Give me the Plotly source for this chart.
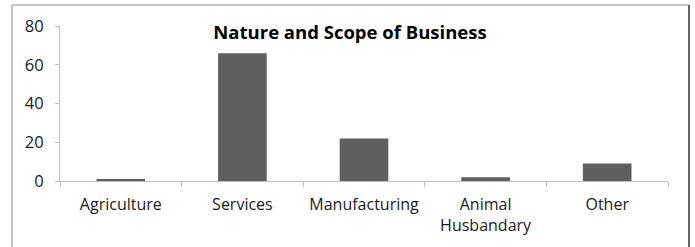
import plotly.graph_objects as go

categories = ["Agriculture", "Services", "Manufacturing", "Animal<br>Husbandary", "Other"]
values = [1, 66, 22, 2, 9]
y_ticks = [0, 20, 40, 60, 80]

W, H = 695, 247
L, R, T, B = 60, 27, 26, 66
pw, ph = W - L - R, H - T - B

def px_x(x):
    return (x - L) / pw

def px_y(y):
    return (H - B - y) / ph

fig = go.Figure(go.Bar(
    x=categories, y=values,
    marker=dict(color="#5f5f5f", line=dict(width=0)),
))

font_family = "Open Sans, Noto Sans, sans-serif"

fig.update_layout(
    width=W, height=H,
    margin=dict(l=L, r=R, t=T, b=B),
    paper_bgcolor="white", plot_bgcolor="white",
    bargap=0.6,
    showlegend=False,
    font=dict(family=font_family, size=15.5, color="#1a1a1a"),
    title=dict(
        text="<b>Nature and Scope of Business</b>",
        x=350 / W, xref="container", xanchor="center",
        y=1 - 33 / H, yref="container", yanchor="middle",
        font=dict(family=font_family, size=18.5, color="#000000"),
    ),
    xaxis=dict(
        type="category", automargin=False,
        showline=True, linecolor="#bfbfbf", linewidth=1,
        ticks="outside", tickson="boundaries", ticklen=5, tickcolor="#bfbfbf",
        showgrid=False, zeroline=False,
        tickfont=dict(size=16, color="#1a1a1a"),
        ticklabelstandoff=9,
    ),
    yaxis=dict(
        range=[0, 80], tickvals=y_ticks, automargin=False,
        showline=True, linecolor="#bfbfbf", linewidth=1,
        ticks="outside", ticklen=4, tickcolor="#bfbfbf",
        showgrid=False, zeroline=False,
        tickfont=dict(size=16.5, color="#1a1a1a"),
        ticklabelstandoff=8,
    ),
)

# outer chart border
border = "#8c8c8c"
fig.add_shape(type="line", xref="paper", yref="paper",
              x0=px_x(12), x1=px_x(12), y0=px_y(5), y1=px_y(260),
              line=dict(color=border, width=1))
fig.add_shape(type="line", xref="paper", yref="paper",
              x0=px_x(12), x1=px_x(689), y0=px_y(5), y1=px_y(5),
              line=dict(color=border, width=1))
fig.add_shape(type="line", xref="paper", yref="paper",
              x0=px_x(689), x1=px_x(689), y0=px_y(5), y1=px_y(260),
              line=dict(color="#333333", width=1.5))

fig.write_html(
    "out.html",
    config={"displayModeBar": False},
    post_script="document.body.style.margin='0';document.body.style.overflow='hidden';",
)
